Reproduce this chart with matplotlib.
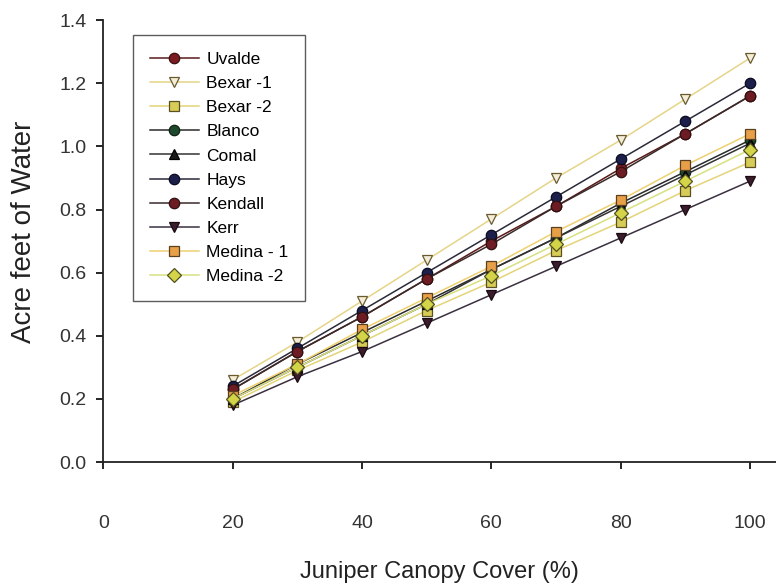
import matplotlib.pyplot as plt

plt.rcParams['font.family'] = ['Liberation Sans', 'DejaVu Sans']

canopy = [20, 30, 40, 50, 60, 70, 80, 90, 100]

uvalde = [0.23, 0.35, 0.46, 0.58, 0.70, 0.81, 0.93, 1.04, 1.16]
bexar1 = [0.26, 0.38, 0.51, 0.64, 0.77, 0.90, 1.02, 1.15, 1.28]
bexar2 = [0.19, 0.29, 0.38, 0.48, 0.57, 0.67, 0.76, 0.86, 0.95]
blanco = [0.20, 0.31, 0.41, 0.51, 0.61, 0.71, 0.82, 0.92, 1.02]
comal = [0.20, 0.30, 0.40, 0.50, 0.61, 0.71, 0.81, 0.91, 1.01]
hays = [0.24, 0.36, 0.48, 0.60, 0.72, 0.84, 0.96, 1.08, 1.20]
kendall = [0.23, 0.35, 0.46, 0.58, 0.69, 0.81, 0.92, 1.04, 1.16]
kerr = [0.18, 0.27, 0.35, 0.44, 0.53, 0.62, 0.71, 0.80, 0.89]
medina1 = [0.21, 0.31, 0.42, 0.52, 0.62, 0.73, 0.83, 0.94, 1.04]
medina2 = [0.20, 0.30, 0.40, 0.50, 0.59, 0.69, 0.79, 0.89, 0.99]

# label, values, marker, face, edge, line colour
series = [
    ("Uvalde", uvalde, "o", "#7a1c22", "#3a1010", "#5a1a1a"),
    ("Bexar -1", bexar1, "v", "#f4eed8", "#6a5a30", "#e6d488"),
    ("Bexar -2", bexar2, "s", "#d8cc58", "#5a5020", "#e4d478"),
    ("Blanco", blanco, "o", "#1d4a2c", "#102010", "#2a2a2a"),
    ("Comal", comal, "^", "#1a1a1a", "#000000", "#333333"),
    ("Hays", hays, "o", "#1c1f4a", "#0a0a20", "#2a2a3a"),
    ("Kendall", kendall, "o", "#6e1c24", "#301010", "#3a2a2a"),
    ("Kerr", kerr, "v", "#3a1c2c", "#1a0a10", "#3a3040"),
    ("Medina - 1", medina1, "s", "#e8a048", "#5a4020", "#eed070"),
    ("Medina -2", medina2, "D", "#d4d448", "#505020", "#d8e080"),
]

fig = plt.figure(figsize=(7.76, 5.83), dpi=100)
ax = fig.add_axes([0.133, 0.2075, 0.867, 0.758])

for label, vals, mk, fc, ec, lc in series:
    ax.plot(canopy, vals, color=lc, linewidth=1.1, marker=mk, markersize=7.5,
            markerfacecolor=fc, markeredgecolor=ec, markeredgewidth=0.9,
            label=label)

ax.set_xlim(0, 104)
ax.set_ylim(0, 1.4)
ax.set_xticks([0, 20, 40, 60, 80, 100])
ax.set_yticks([0.0, 0.2, 0.4, 0.6, 0.8, 1.0, 1.2, 1.4])
ax.set_yticklabels(["0.0", "0.2", "0.4", "0.6", "0.8", "1.0", "1.2", "1.4"])

for s in ["top", "right"]:
    ax.spines[s].set_visible(False)
for s in ["left", "bottom"]:
    ax.spines[s].set_linewidth(1.3)
    ax.spines[s].set_color("#222222")

ax.tick_params(axis="x", direction="out", length=5, width=1.2, pad=33,
               labelsize=14, labelcolor="#333333")
ax.tick_params(axis="y", direction="out", length=5, width=1.2, pad=7,
               labelsize=14, labelcolor="#333333")

ax.set_xlabel("Juniper Canopy Cover (%)", fontsize=17, color="#222222", labelpad=21)
ax.set_ylabel("Acre feet of Water", fontsize=20, color="#222222")
ax.yaxis.set_label_coords(-0.098, 0.52)

leg = ax.legend(loc="upper left", bbox_to_anchor=(0.045, 0.966), fontsize=12.5,
                frameon=True, fancybox=False, edgecolor="#333333",
                handlelength=2.8, labelspacing=0.52, borderpad=0.95,
                handletextpad=0.45, borderaxespad=0)
leg.get_frame().set_linewidth(1.0)

fig.savefig("out.png", dpi=100)
